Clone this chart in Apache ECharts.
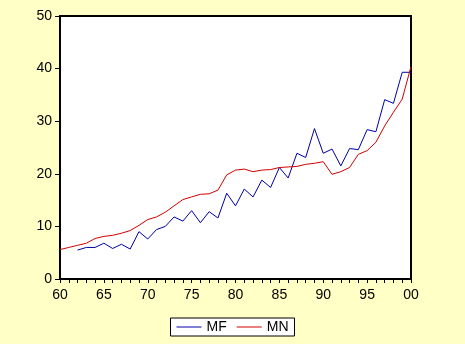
<!DOCTYPE html>
<html>
<head>
<meta charset="utf-8">
<script src="https://cdn.jsdelivr.net/npm/echarts@6/dist/echarts.min.js"></script>
<style>
  html, body { margin: 0; padding: 0; background: #FFFFC6; }
  #chart { width: 465px; height: 344px; }
</style>
</head>
<body>
<div id="chart"></div>
<script>
// years 1960 - 2000
var years = [];
for (var y = 1960; y <= 2000; y++) years.push(y);

// MF starts in 1962
var mf = [null, null, 5.5, 6.0, 6.0, 6.8, 5.8, 6.6, 5.7, 9.0,
  7.6, 9.4, 10.0, 11.8, 11.0, 13.0, 10.7, 12.8, 11.6, 16.3,
  13.9, 17.1, 15.6, 18.8, 17.4, 21.2, 19.2, 23.9, 23.1, 28.6,
  23.9, 24.7, 21.5, 24.8, 24.6, 28.4, 28.0, 34.1, 33.4, 39.3,
  39.3];

var mn = [5.6, 6.0, 6.4, 6.8, 7.7, 8.1, 8.3, 8.7, 9.2, 10.2,
  11.3, 11.8, 12.7, 13.9, 15.1, 15.6, 16.1, 16.2, 16.9, 19.8,
  20.7, 20.9, 20.4, 20.7, 20.8, 21.2, 21.3, 21.4, 21.8, 22.0,
  22.3, 19.9, 20.4, 21.2, 23.7, 24.4, 26.0, 29.1, 31.7, 34.2,
  40.4];

var yTicks = [0, 10, 20, 30, 40, 50];

function pairs(vals) {
  return years.map(function (yr, i) { return [yr, vals[i]]; });
}

var chart = echarts.init(document.getElementById('chart'));

var labelFont = {
  color: '#000',
  fontFamily: 'Arial, "Liberation Sans", sans-serif',
  fontSize: 14
};

chart.setOption({
  backgroundColor: '#FFFFC6',
  animation: false,
  grid: {
    left: 60,
    top: 16,
    right: 54,
    bottom: 65,
    show: true,
    backgroundColor: '#fff',
    borderColor: '#000',
    borderWidth: 2
  },
  legend: {
    bottom: 8,
    left: 'center',
    backgroundColor: '#fff',
    borderColor: '#000',
    borderWidth: 1,
    borderRadius: 0,
    padding: [2, 6, 2, 6],
    itemGap: 10,
    itemWidth: 25,
    itemHeight: 1,
    icon: 'rect',
    textStyle: labelFont,
    data: ['MF', 'MN']
  },
  xAxis: {
    type: 'value',
    min: 1960,
    max: 2000,
    interval: 5,
    axisLine: { lineStyle: { color: '#000', width: 2 } },
    axisTick: { length: 4, lineStyle: { color: '#000' } },
    minorTick: { show: true, splitNumber: 5, length: 4, lineStyle: { color: '#000' } },
    splitLine: { show: false },
    axisLabel: Object.assign({
      margin: 9,
      formatter: function (v) {
        var s = String(v % 100);
        return s.length < 2 ? '0' + s : s;
      }
    }, labelFont)
  },
  yAxis: {
    type: 'value',
    min: 0,
    max: 50,
    interval: 10,
    axisLine: { show: true, lineStyle: { color: '#000', width: 2 } },
    axisTick: { show: true, length: 5, lineStyle: { color: '#000' } },
    splitLine: { show: false },
    axisLabel: Object.assign({ margin: 8 }, labelFont)
  },
  series: [
    {
      name: 'MF',
      type: 'line',
      data: pairs(mf),
      showSymbol: false,
      color: '#0000A8',
      lineStyle: { width: 1, color: '#0000A8' }
    },
    {
      name: 'MN',
      type: 'line',
      data: pairs(mn),
      showSymbol: false,
      color: '#D00000',
      lineStyle: { width: 1, color: '#D00000' }
    }
  ]
});
</script>
</body>
</html>
